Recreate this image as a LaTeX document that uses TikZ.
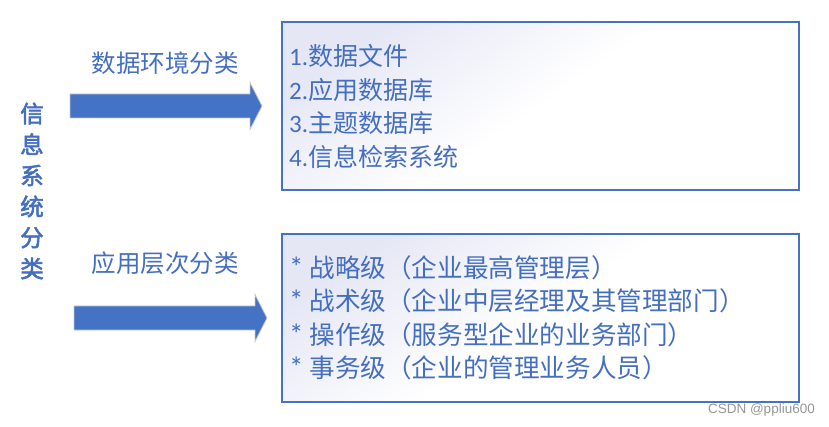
\documentclass[tikz,border=0pt]{standalone}
\usepackage{fontspec}
\setmainfont{Noto Sans CJK SC}
\newfontfamily\latinfont{Carlito}
\newfontfamily\markfont{Liberation Sans}
\newfontfamily\sidefont{Noto Sans CJK SC}[FakeBold=2.5]
\usetikzlibrary{positioning}
\definecolor{slideblue}{RGB}{68,114,196}
\definecolor{textblue}{RGB}{68,110,192}
\definecolor{boxtint}{RGB}{229,231,245}
\definecolor{arrowrim}{RGB}{200,200,200}
\definecolor{markgray}{RGB}{150,150,150}
\newcommand{\bullmark}{{\latinfont{\fontsize{29}{29}\selectfont *} }}

\tikzset{
	listbox/.style={draw=slideblue, line width=1.2pt, top color=boxtint, bottom color=white, middle color=white, shading angle=35, minimum width=517pt, minimum height=168pt, inner sep=0pt},
	bigarrow/.style={fill=slideblue, draw=arrowrim, line width=0.8pt},
	listtext/.style={anchor=west, align=left, inner sep=0pt, text=textblue},
	sortlabel/.style={inner sep=0pt, text=textblue, font=\fontsize{24.5}{30}\selectfont},
	sidetext/.style={inner sep=0pt, align=center, text=textblue, font=\fontsize{23.5}{31}\selectfont\sidefont}
}

\begin{document}
\begin{tikzpicture}[x=1pt,y=-1pt]
	\useasboundingbox (0,0) rectangle (829,427);
	% left title
	\node[sidetext] (sidelabel) at (32,191) {信\\息\\系\\统\\分\\类};
	% arrows
	\foreach \xa/\xb/\yc in {70/250/106, 74/255/318}{
		\draw[bigarrow] (\xa,\yc-12)--(\xb,\yc-12)--(\xb,\yc-23.5)--(\xb+12,\yc)--(\xb,\yc+23.5)--(\xb,\yc+12)--(\xa,\yc+12)--cycle;
	}
	\node[sortlabel] (envlabel) at (165,63) {数据环境分类};
	\node[sortlabel] (levellabel) at (165,263) {应用层次分类};
	% boxes
	\node[listbox] (filebox) at (540.5,106) {};
	\node[listbox] (levelbox) at (540.5,318) {};
	\node[listtext, font=\fontsize{25}{33.5}\selectfont] (filelist) at (289,106.5) {{\latinfont 1.}数据文件\\{\latinfont 2.}应用数据库\\{\latinfont 3.}主题数据库\\{\latinfont 4.}信息检索系统};
	\node[listtext, font=\fontsize{25.6}{33.5}\selectfont] (levellist) at (289,318) {\bullmark 战略级（企业最高管理层）\\\bullmark 战术级（企业中层经理及其管理部门）\\\bullmark 操作级（服务型企业的业务部门）\\\bullmark 事务级（企业的管理业务人员）};
	\node[anchor=east, inner sep=0pt, text=markgray, font=\fontsize{13.5}{16}\selectfont\markfont] (watermark) at (815,410) {CSDN @ppliu600};
\end{tikzpicture}
\end{document}
